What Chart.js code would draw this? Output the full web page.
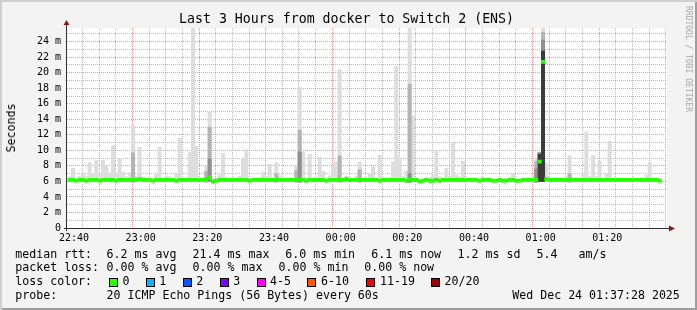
<!DOCTYPE html>
<html><head><meta charset="utf-8">
<script src="https://cdn.jsdelivr.net/npm/chart.js@4/dist/chart.umd.min.js"></script>
<style>
html,body{margin:0;padding:0;background:#f3f3f3;}
body{width:697px;height:310px;overflow:hidden;}
#wrap{position:relative;width:697px;height:310px;background:#f3f3f3;box-shadow:inset 2px 2px 0 #cfcfcf, inset -2px -2px 0 #9e9e9e;font-family:'DejaVu Sans Mono',monospace;color:#000;}
canvas{position:absolute;left:0;top:0;}
.t{position:absolute;white-space:pre;font-size:11.6px;line-height:14px;}
.box{position:absolute;width:9px;height:9px;box-sizing:border-box;border:1px solid #000;}
#title{position:absolute;left:179px;top:10.8px;font-size:13.25px;line-height:16px;white-space:pre;}
#ylab{position:absolute;left:10.5px;top:128px;font-size:11.6px;line-height:14px;white-space:pre;transform:translate(-50%,-50%) rotate(-90deg);}
#wm{position:absolute;left:688px;top:58.5px;font-size:8px;line-height:10px;white-space:pre;color:#a8a8a8;transform:translate(-50%,-50%) rotate(90deg);}
</style></head>
<body><div id="wrap"><canvas id="c" width="697" height="310"></canvas>
<div id="title">Last 3 Hours from docker to Switch 2 (ENS)</div>
<div id="ylab">Seconds</div>
<div id="wm">RRDTOOL / TOBI OETIKER</div>
</div>
<script>
// ---------- data ----------
const xTickMinutes = [0,20,40,60,80,100,120,140,160];          // minutes after 22:40
const xTickLabels  = ['22:40','23:00','23:20','23:40','00:00','00:20','00:40','01:00','01:20'];
const yTickValues  = [0,2,4,6,8,10,12,14,16,18,20,22,24];        // ms
const yTickLabels  = ['0','2 m','4 m','6 m','8 m','10 m','12 m','14 m','16 m','18 m','20 m','22 m','24 m'];
const firstSampleMinute = -1.3;   // first 60 s sample, minutes relative to 22:40

// median rtt per minute (ms)
const medianRtt = [
6.2,6.2,6.1,6.2,6.2,6.1,6.2,6.2,6.2,6.1,
6.2,6.2,6.2,6.2,6.1,6.2,6.2,6.2,6.2,6.2,
6.2,6.3,6.2,6.2,6.2,6.1,6.2,6.2,6.2,6.2,
6.2,6.2,6.1,6.2,6.2,6.2,6.2,6.2,6.2,6.2,
6.2,6.3,6.5,6.0,6.1,6.2,6.2,6.2,6.2,6.2,
6.2,6.2,6.2,6.2,6.1,6.2,6.2,6.2,6.2,6.2,
6.2,6.2,6.2,6.2,6.2,6.2,6.2,6.2,6.2,6.2,
6.2,6.1,6.2,6.2,6.2,6.2,6.2,6.1,6.2,6.2,
6.2,6.2,6.2,6.3,6.2,6.2,6.2,6.2,6.2,6.2,
6.2,6.2,6.2,6.1,6.2,6.2,6.2,6.2,6.2,6.2,
6.2,6.1,6.3,6.2,6.2,6.0,6.1,6.2,6.1,6.1,
6.2,6.1,6.2,6.2,6.2,6.2,6.2,6.2,6.2,6.2,
6.2,6.2,6.2,6.1,6.2,6.2,6.2,6.1,6.1,6.2,
6.1,6.1,6.2,6.2,6.1,6.1,6.2,6.2,6.2,6.2,
6.2,8.55,21.4,6.3,6.2,6.2,6.2,6.2,6.2,6.2,
6.2,6.2,6.2,6.2,6.2,6.2,6.2,6.2,6.2,6.2,
6.2,6.2,6.2,6.2,6.2,6.2,6.2,6.2,6.2,6.2,
6.2,6.2,6.2,6.2,6.2,6.2,6.2,6.1];

// lowest ping per minute (ms)
const pingMin = [
5.9,5.9,5.8,5.9,5.9,5.8,5.9,5.9,5.9,5.8,
5.9,5.9,5.9,5.9,5.8,5.9,5.9,5.9,5.9,5.9,
5.9,6.0,5.9,5.9,5.9,5.8,5.9,5.9,5.9,5.9,
5.9,5.9,5.8,5.9,5.9,5.9,5.9,5.9,5.9,5.9,
5.9,5.9,6.0,5.8,5.8,5.9,5.9,5.9,5.9,5.9,
5.9,5.9,5.9,5.9,5.8,5.9,5.9,5.9,5.9,5.9,
5.9,5.9,5.9,5.9,5.9,5.9,5.9,5.9,5.9,5.9,
5.9,5.8,5.9,5.9,5.9,5.9,5.9,5.8,5.9,5.9,
5.9,5.9,5.9,6.0,5.9,5.9,5.9,5.9,5.9,5.9,
5.9,5.9,5.9,5.8,5.9,5.9,5.9,5.9,5.9,5.9,
5.9,5.8,5.9,5.9,5.9,5.8,5.8,5.9,5.8,5.8,
5.9,5.8,5.9,5.9,5.9,5.9,5.9,5.9,5.9,5.9,
5.9,5.9,5.9,5.8,5.9,5.9,5.9,5.8,5.8,5.9,
5.8,5.8,5.9,5.9,5.8,5.8,5.9,5.9,5.9,5.9,
5.9,6.0,6.0,5.9,5.9,5.9,5.9,5.9,5.9,5.9,
5.9,5.9,5.9,5.9,5.9,5.9,5.9,5.9,5.9,5.9,
5.9,5.9,5.9,5.9,5.9,5.9,5.9,5.9,5.9,5.9,
5.9,5.9,5.9,5.9,5.9,5.9,5.9,5.8];

// highest ping per minute (ms)
const pingMax = [
6.6,7.7,6.3,6.7,7.1,6.7,8.4,6.9,8.7,6.9,
8.7,8.1,7.1,10.6,7.1,8.9,7.2,6.6,7.1,13.2,
6.7,10.4,6.6,6.4,6.3,6.4,6.9,10.4,6.4,6.7,
6.6,6.4,7.1,11.6,6.4,6.3,9.7,26,10.5,6.4,
6.4,8.0,14.9,6.3,6.2,6.8,9.6,6.5,6.4,6.3,
6.4,6.7,9.0,10.1,6.4,6.3,6.4,6.5,7.2,6.6,
8.2,6.4,8.4,6.8,6.3,6.3,6.3,6.4,8.1,18.1,
9.8,6.5,9.5,6.4,6.4,9.1,7.3,6.3,6.7,7.9,
8.5,20.4,6.3,6.7,6.3,6.4,6.7,8.5,6.3,6.3,
7.0,7.9,6.3,9.4,6.3,6.3,6.4,8.5,20.8,9.0,
6.6,7.3,26,14.4,6.4,6.3,6.3,6.4,6.5,6.8,
10.0,6.6,6.5,7.7,6.7,11.0,6.8,6.6,8.6,6.4,
6.4,6.4,6.3,6.3,6.5,6.3,6.3,6.3,6.3,6.3,
6.3,6.4,6.5,7.0,6.3,6.3,6.3,6.3,6.3,6.7,
9.0,9.7,26,8.3,6.5,6.4,6.5,6.4,6.3,6.6,
9.3,6.4,6.3,6.4,7.2,12.3,6.6,9.3,6.6,8.6,
6.3,7.0,11.2,6.4,6.4,6.2,6.2,6.2,6.2,6.4,
6.4,6.3,6.2,6.8,8.4,6.3,6.4,6.4];

// denser smoke (more pings) — sample index / top value (ms)
const smoke2Idx = [19,41,42,62,68,69,81,87,102,140,141,142,150];
const smoke2Top = [9.7,7.3,13.0,7.0,7.4,12.6,9.3,7.5,18.5,8.6,9.7,25.2,7.0];
const smoke3Idx = [42,69,102,140,141,142];
const smoke3Top = [8.9,9.8,7.0,7.6,9.7,24.2];
const smoke4Idx = [141,142];
const smoke4Top = [9.5,22.8];

const rttTexts  = ['median rtt:','6.2 ms avg','21.4 ms max','6.0 ms min','6.1 ms now','1.2 ms sd','5.4','am/s'];
const lossTexts = ['packet loss:','0.00 % avg','0.00 % max','0.00 % min','0.00 % now'];
const lossLabels = ['0','1','2','3','4-5','6-10','11-19','20/20'];
const lossColors = ['#26ff00','#00b8ff','#0059ff','#7e00ff','#ff00ff','#ff5500','#ff0000','#a10000'];
const probeTexts = ['probe:','20 ICMP Echo Pings (56 Bytes) every 60s','Wed Dec 24 01:37:28 2025'];

// ---------- layout (positions only) ----------
const rttX   = [15.3,106.6,192.6,285.3,371.3,457.6,536.6,578.6];
const lossX  = [15.3,106.6,192.6,278.6,364.3];
const boxX   = [108.5,145.5,182.5,219.5,256.5,307,365.5,431];
const boxLabX= [122.6,159.3,196.3,233.3,270,321,380,444.6];
const probeX = [15.3,106.6,512.3];
const rowTop = [246.7,260.3,274.3,288];

const wrap = document.getElementById('wrap');
function addText(txt,x,y){const d=document.createElement('div');d.className='t';d.textContent=txt;d.style.left=x+'px';d.style.top=y+'px';wrap.appendChild(d);}
rttTexts.forEach((s,i)=>addText(s,rttX[i],rowTop[0]));
lossTexts.forEach((s,i)=>addText(s,lossX[i],rowTop[1]));
addText('loss color:',15.3,rowTop[2]);
lossLabels.forEach((s,i)=>{
  const b=document.createElement('div');b.className='box';b.style.left=boxX[i]+'px';b.style.top='277.5px';b.style.background=lossColors[i];wrap.appendChild(b);
  addText(s,boxLabX[i],rowTop[2]);
});
probeTexts.forEach((s,i)=>addText(s,probeX[i],rowTop[3]));

// ---------- chart ----------
const xOf = i => firstSampleMinute + i;
const bandAll = tops => tops.map((v,i)=>({x:xOf(i), y:[pingMin[i], v]}));
const bandSparse = (idx,tops) => idx.map((i,k)=>({x:xOf(i), y:[pingMin[i], tops[k]]}));
const medBand = medianRtt.map((v,i)=>({x:xOf(i), y:[v-0.2, v+0.2]}));

const MAJ = 'rgba(222,80,80,0.6)';
const MIN = 'rgba(130,130,130,0.55)';

const framePlugin = {
  id:'frame',
  beforeDraw(chart){
    const {ctx, chartArea:a} = chart;
    ctx.save(); ctx.fillStyle='#ffffff';
    ctx.fillRect(a.left,a.top,a.right-a.left,a.bottom-a.top); ctx.restore();
  },
  afterDraw(chart){
    const {ctx, chartArea:a} = chart;
    ctx.save();
    ctx.strokeStyle='#303030'; ctx.lineWidth=1;
    ctx.beginPath();
    ctx.moveTo(a.left-0.5, a.bottom+3); ctx.lineTo(a.left-0.5, a.top-3);
    ctx.moveTo(a.left-3, a.bottom+0.5); ctx.lineTo(a.right+2, a.bottom+0.5);
    ctx.stroke();
    ctx.fillStyle='#8b1a1a';
    ctx.beginPath();
    ctx.moveTo(a.left-3.5, a.top-3); ctx.lineTo(a.left+2.5, a.top-3); ctx.lineTo(a.left-0.5, a.top-8); ctx.closePath(); ctx.fill();
    ctx.beginPath();
    ctx.moveTo(a.right+2, a.bottom-2.5); ctx.lineTo(a.right+2, a.bottom+3.5); ctx.lineTo(a.right+8, a.bottom+0.5); ctx.closePath(); ctx.fill();
    ctx.restore();
  }
};

new Chart(document.getElementById('c'), {
  type:'bar',
  data:{ datasets:[
    {data:medBand, backgroundColor:'#26ff00', order:1},
    {data:bandSparse(smoke4Idx,smoke4Top), backgroundColor:'#3c3c3c', order:2},
    {data:bandSparse(smoke3Idx,smoke3Top), backgroundColor:'#909090', order:3},
    {data:bandSparse(smoke2Idx,smoke2Top), backgroundColor:'#b4b4b4', order:4},
    {data:bandAll(pingMax), backgroundColor:'#dddddd', order:5}
  ]},
  options:{
    responsive:false, animation:false, devicePixelRatio:1,
    events:[],
    layout:{padding:{left:0,top:28,right:30,bottom:62}},
    datasets:{bar:{grouped:false, categoryPercentage:1, barPercentage:1, borderWidth:0}},
    plugins:{legend:{display:false}, tooltip:{enabled:false}, title:{display:false}},
    scales:{
      x:{type:'linear', min:-2.1, max:177.9, offset:false,
        afterBuildTicks:s=>{const t=[];for(let m=0;m<=175;m+=5)t.push({value:m});s.ticks=t;},
        afterFit:s=>{s.height=20;},
        grid:{color:c=>(c.tick && c.tick.value%20===0)?MAJ:MIN, lineWidth:1, drawTicks:false},
        border:{display:false, dash:[1,1]},
        ticks:{autoSkip:false, maxRotation:0, padding:4, color:'#000',
          font:{family:'DejaVu Sans Mono', size:10},
          callback:v=>{const k=xTickMinutes.indexOf(v);return k>=0?xTickLabels[k]:'';}}
      },
      y:{type:'linear', min:0, max:25.76,
        afterBuildTicks:s=>{const t=[];for(let v=0;v<=25;v++)t.push({value:v});s.ticks=t;},
        afterFit:s=>{s.width=67;},
        grid:{color:c=>(c.tick && c.tick.value%2===0)?MAJ:MIN, lineWidth:1, drawTicks:false},
        border:{display:false, dash:[1,1]},
        ticks:{autoSkip:false, padding:6, color:'#000',
          font:{family:'DejaVu Sans Mono', size:10},
          callback:v=>{const k=yTickValues.indexOf(v);return k>=0?yTickLabels[k]:'';}}
      }
    }
  },
  plugins:[framePlugin]
});
</script>
</body></html>
